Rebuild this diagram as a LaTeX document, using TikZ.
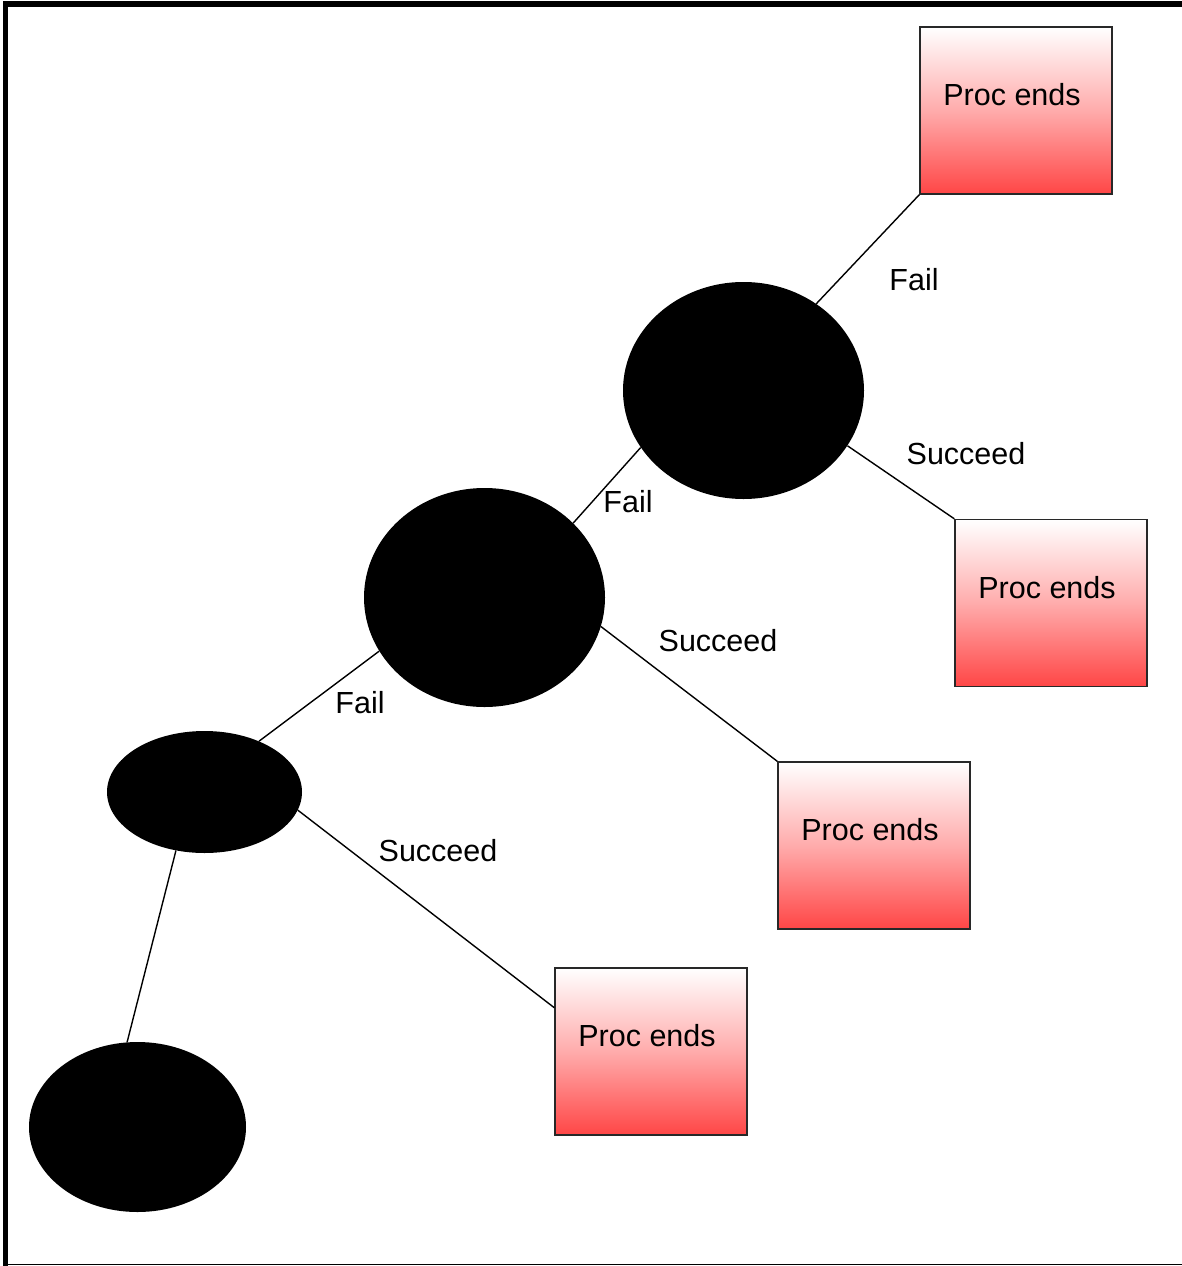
\documentclass[tikz,border=0pt]{standalone}
\usepackage{fontspec}
\setmainfont{Liberation Sans}
\usetikzlibrary{shapes.geometric,calc}
\definecolor{endred}{RGB}{255,70,70}
\definecolor{edgegray}{RGB}{40,40,40}
\tikzset{
  blob/.style={ellipse, fill=black, draw=none, inner sep=0pt},
  endbox/.style={rectangle, draw=edgegray, line width=1.4pt,
    top color=white, bottom color=endred, middle color=endred!45,
    minimum width=192pt, minimum height=167pt, inner sep=0pt,
    font=\fontsize{30.5}{36}\selectfont, text height=22pt, text depth=32pt},
  edge/.style={draw=black, line width=1.4pt},
  tag/.style={font=\fontsize{30.5}{36}\selectfont, inner sep=0pt}
}
\newcommand{\procends}{\hspace*{-8pt}Proc ends}
\begin{document}
\begin{tikzpicture}[x=1pt,y=-1pt]
  \useasboundingbox (0,0) rectangle (1182,1266);
  % frame
  \draw[line width=5.2pt] (5.4,1266) -- (5.4,4) -- (1182,4);
  \draw[line width=1.4pt] (3,1264.5) -- (1182,1264.5);

  % decision blobs
  \node[blob, minimum width=241pt, minimum height=217pt] (e1) at (743.5,390.5) {};
  \node[blob, minimum width=241pt, minimum height=219pt] (e2) at (484.5,597.5) {};
  \node[blob, minimum width=195pt, minimum height=122pt] (e3) at (204.5,792) {};
  \node[blob, minimum width=217pt, minimum height=170pt] (e4) at (137.5,1127) {};

  % end states
  \node[endbox] (b1) at (1016,110.5) {\procends};
  \node[endbox] (b2) at (1051,603) {\procends};
  \node[endbox] (b3) at (874,845.5) {\procends};
  \node[endbox] (b4) at (651,1051.5) {\procends};

  % connectors
  \draw[edge] (e1.50) -- (b1.south west);
  \draw[edge] (e1.-28) -- (b2.north west);
  \draw[edge] (e2.40) -- (e1.209.6);
  \draw[edge] (e2.-14) -- (b3.north west);
  \draw[edge] (e3.43) -- (e2.207.6);
  \coordinate (b4in) at ($(b4.north west)!0.24!(b4.south west)$);
  \draw[edge] (e3.-11) -- (b4in);
  \draw[edge] (e3.244.7) -- (e4.97.8);

  % branch labels
  \node[tag] (l1) at (914,280) {Fail};
  \node[tag] (l2) at (966,454) {Succeed};
  \node[tag] (l3) at (628,502) {Fail};
  \node[tag] (l4) at (718,641) {Succeed};
  \node[tag] (l5) at (360,703) {Fail};
  \node[tag] (l6) at (438,851) {Succeed};
\end{tikzpicture}
\end{document}
